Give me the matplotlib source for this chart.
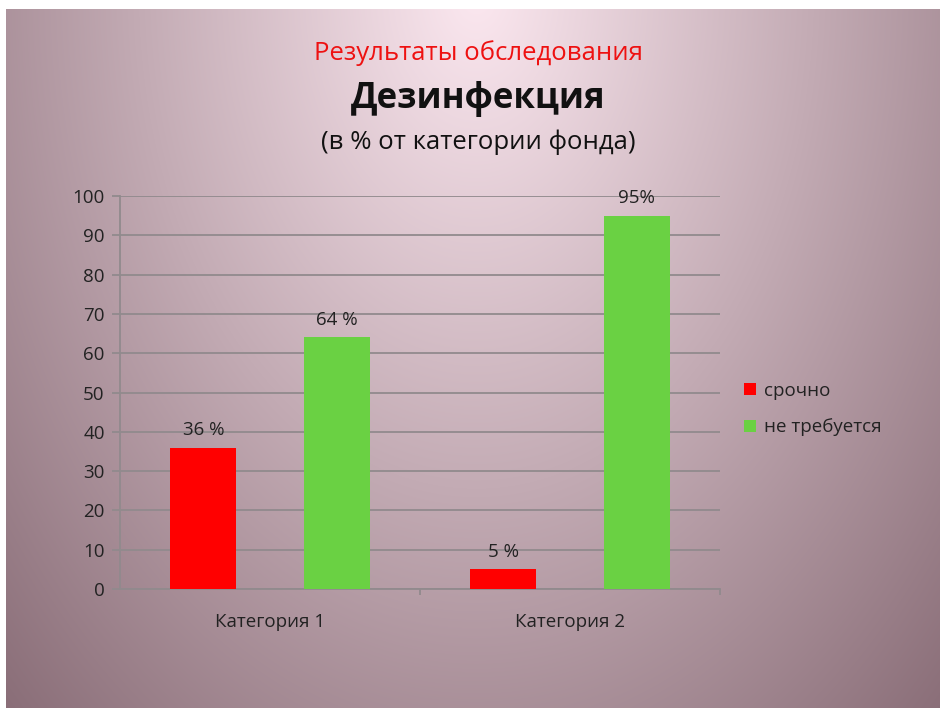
import matplotlib
matplotlib.use("Agg")
import matplotlib.pyplot as plt
import numpy as np

plt.rcParams['font.family'] = ['Open Sans', 'DejaVu Sans']

# data
categories = ["Категория 1", "Категория 2"]
series_names = ["срочно", "не требуется"]
urgent = [36, 5]
not_needed = [64, 95]
urgent_labels = ["36 %", "5 %"]
not_needed_labels = ["64 %", "95%"]

W, H = 940, 710
fig = plt.figure(figsize=(W / 100, H / 100), dpi=100)
fig.patch.set_facecolor("white")

# background gradient (light top centre -> mauve edges)
bg = fig.add_axes([6 / W, 2 / H, 934 / W, 699 / H])
bg.set_axis_off()
yy, xx = np.mgrid[0:700, 0:934]
t = np.sqrt(((xx - 470) / 540.0) ** 2 + ((yy + 20) / 800.0) ** 2)
t = np.clip(t / 1.25, 0, 1)
light = np.array([252, 232, 240]) / 255
dark = np.array([138, 110, 120]) / 255
img = light[None, None, :] * (1 - t[..., None]) + dark[None, None, :] * t[..., None]
bg.imshow(img, aspect="auto", extent=[0, 1, 0, 1], origin="upper")
bg.set_xlim(0, 1)
bg.set_ylim(0, 1)

ax = fig.add_axes([120 / W, 1 - 589 / H, 600 / W, 393 / H])
ax.patch.set_alpha(0)

x = np.arange(len(categories))
w = 0.22
off = 0.222
red = "#ff0000"
green = "#6ad143"
b1 = ax.bar(x - off, urgent, w, color=red, label=series_names[0], zorder=3)
b2 = ax.bar(x + off, not_needed, w, color=green, label=series_names[1], zorder=3)

for bars, labs in [(b1, urgent_labels), (b2, not_needed_labels)]:
    for rect, lab in zip(bars, labs):
        ax.annotate(lab, (rect.get_x() + rect.get_width() / 2, rect.get_height()),
                    xytext=(0, 6), textcoords="offset points", ha="center", va="bottom",
                    fontsize=13.5, color="#222222")

gc = "#918a8d"
ax.set_xlim(-0.5, 1.5)
ax.set_ylim(0, 100)
ax.set_yticks(np.arange(0, 101, 10))
ax.set_xticks(x)
ax.set_xticklabels(categories)
ax.set_xticks([0.5, 1.5], minor=True)
ax.tick_params(axis="y", length=6, width=1.3, color=gc, labelsize=13.5,
               labelcolor="#222222", pad=5)
ax.tick_params(axis="x", which="major", length=0, labelsize=13.5, labelcolor="#222222", pad=17)
ax.tick_params(axis="x", which="minor", length=4, width=1.3, color=gc)
ax.grid(axis="y", color=gc, linewidth=1.3, zorder=0)
for s in ["top", "right"]:
    ax.spines[s].set_visible(False)
for s in ["left", "bottom"]:
    ax.spines[s].set_color(gc)
    ax.spines[s].set_linewidth(1.3)

# legend
fig.legend(handles=[b1, b2], labels=series_names, loc="center left",
           bbox_to_anchor=(727 / W, 1 - 409 / H), frameon=False, fontsize=13.5,
           handlelength=0.65, handleheight=0.65, handletextpad=0.4,
           labelspacing=1.0, labelcolor="#222222")

# titles
fig.text(478 / W, 1 - 53 / H, "Результаты обследования", ha="center", va="center",
         fontsize=18.5, color="#ee1111")
fig.text(478 / W, 1 - 99 / H, "Дезинфекция", ha="center", va="center",
         fontsize=25, fontweight="bold", color="#111111")
fig.text(478 / W, 1 - 142 / H, "(в % от категории фонда)", ha="center", va="center",
         fontsize=18.5, color="#111111")

fig.savefig("out.png", dpi=100, facecolor=fig.get_facecolor())
